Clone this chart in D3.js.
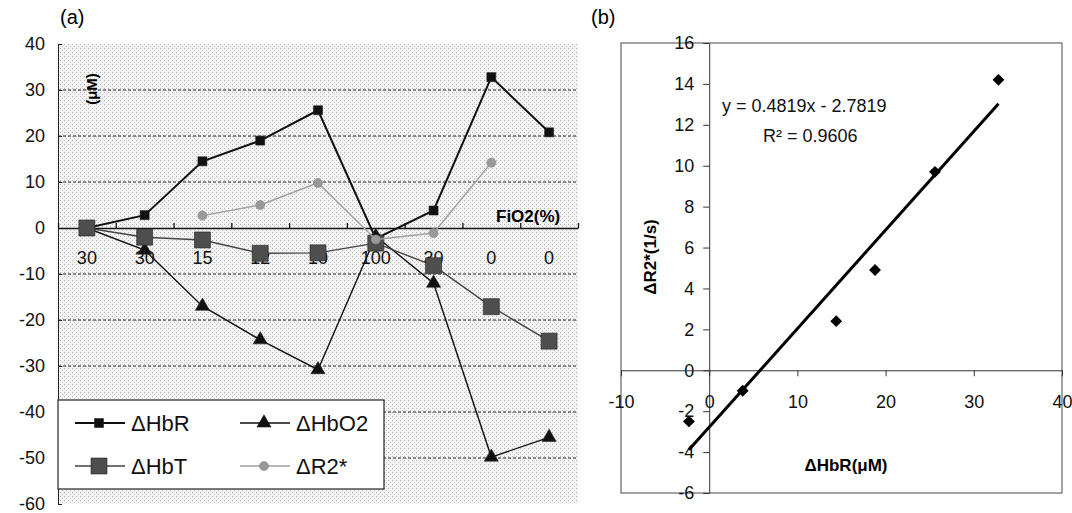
<!DOCTYPE html>
<html>
<head>
<meta charset="utf-8">
<script src="https://cdn.jsdelivr.net/npm/d3@7"></script>
<style>
  body { margin: 0; background: #fff; }
  svg { font-family: "Liberation Sans", Arial, sans-serif; }
</style>
</head>
<body>
<div id="chart"></div>
<script>
// panel (a) data
const fio2Labels = ["30", "30", "15", "12", "10", "100", "30", "0", "0"];
const hbR  = [0, 2.8, 14.5, 19, 25.6, -2.3, 3.8, 32.8, 20.8];
const hbO2 = [0, -4.8, -17, -24.3, -30.8, -1.8, -12, -49.8, -45.5];
const hbT  = [0, -2, -2.6, -5.5, -5.4, -3.3, -8.2, -17.1, -24.6];
const r2s  = [null, null, 2.7, 5, 9.8, -2.5, -1.1, 14.2, null];
const yTicksA = [-60, -50, -40, -30, -20, -10, 0, 10, 20, 30, 40];

// panel (b) data
const scatterX = [-2.3, 3.8, 14.4, 18.8, 25.6, 32.8];
const scatterY = [-2.5, -1.0, 2.4, 4.9, 9.7, 14.2];
const slope = 0.4819, intercept = -2.7819;
const xTicksB = [-10, 0, 10, 20, 30, 40];
const yTicksB = [-6, -4, -2, 0, 2, 4, 6, 8, 10, 12, 14, 16];

const width = 1072, height = 513;
const fmt = d => String(d);  // plain hyphen minus, like the original

const svg = d3.select("#chart").append("svg")
  .attr("width", width)
  .attr("height", height);

drawPanelA();
drawPanelB();

function drawPanelA() {
  const left = 58, right = 578, top = 44, bottom = 504;

  const x = d3.scaleBand()
    .domain(d3.range(fio2Labels.length))
    .range([left, right]);
  const xEdge = d3.scaleLinear()
    .domain([0, fio2Labels.length])
    .range([left, right]);
  const y = d3.scaleLinear()
    .domain([-60, 40])
    .range([bottom, top]);

  // halftone-like background
  const defs = svg.append("defs");
  const pat = defs.append("pattern")
    .attr("id", "dots")
    .attr("width", 4).attr("height", 4)
    .attr("patternUnits", "userSpaceOnUse");
  pat.append("rect").attr("width", 4).attr("height", 4).attr("fill", "#f3f3f3");
  pat.append("rect").attr("width", 1).attr("height", 1).attr("fill", "#b4b4b4");
  pat.append("rect").attr("x", 2).attr("y", 2).attr("width", 1).attr("height", 1).attr("fill", "#c4c4c4");

  svg.append("rect")
    .attr("x", left).attr("y", top)
    .attr("width", right - left).attr("height", bottom - top)
    .attr("fill", "url(#dots)");

  // dashed grid
  svg.append("g")
    .selectAll("line")
    .data(yTicksA.filter(v => v !== 0 && v !== 40 && v !== -60))
    .join("line")
    .attr("x1", left).attr("x2", right)
    .attr("y1", d => y(d)).attr("y2", d => y(d))
    .attr("stroke", "#222")
    .attr("stroke-width", 1)
    .attr("stroke-dasharray", "3,2");

  // y axis
  const yAxis = svg.append("g")
    .attr("transform", `translate(${left},0)`)
    .call(d3.axisLeft(y).tickValues(yTicksA).tickFormat(fmt).tickSize(-4).tickSizeOuter(0).tickPadding(13));
  yAxis.selectAll("text").attr("font-size", 18).attr("fill", "#111");
  yAxis.selectAll("line, path").attr("stroke", "#222");

  // x axis at zero, ticks between categories
  const xAxis = svg.append("g")
    .attr("transform", `translate(0,${y(0)})`)
    .call(d3.axisBottom(xEdge).ticks(fio2Labels.length).tickSize(-5).tickSizeOuter(0).tickFormat(""));
  xAxis.selectAll("line, path").attr("stroke", "#111").attr("stroke-width", 1.3);

  const xLab = svg.append("g")
    .attr("transform", `translate(0,${y(0)})`)
    .call(d3.axisBottom(x).tickSize(0).tickPadding(23).tickFormat(i => fio2Labels[i]));
  xLab.select(".domain").remove();
  xLab.selectAll("text").attr("font-size", 18).attr("fill", "#111");

  const cx = i => x(i) + x.bandwidth() / 2;

  const series = [
    { name: "ΔHbR",  values: hbR,  line: "#111", lw: 2,   marker: "square",   size: 9,  fill: "#111" },
    { name: "ΔHbO2", values: hbO2, line: "#111", lw: 1.4, marker: "triangle", size: 12, fill: "#111" },
    { name: "ΔHbT",  values: hbT,  line: "#444", lw: 1.4, marker: "square",   size: 16, fill: "#4e4e4e" },
    { name: "ΔR2*",  values: r2s,  line: "#a0a0a0", lw: 1.4, marker: "circle", size: 9, fill: "#999" }
  ];

  const line = d3.line()
    .defined(d => d[1] !== null)
    .x(d => cx(d[0]))
    .y(d => y(d[1]));

  series.forEach(s => {
    const pts = s.values.map((v, i) => [i, v]);
    svg.append("path")
      .datum(pts)
      .attr("d", line)
      .attr("fill", "none")
      .attr("stroke", s.line)
      .attr("stroke-width", s.lw);

    svg.append("g")
      .selectAll("path")
      .data(pts.filter(d => d[1] !== null))
      .join("path")
      .attr("transform", d => `translate(${cx(d[0])},${y(d[1])})`)
      .attr("d", markerPath(s.marker, s.size))
      .attr("fill", s.fill)
      .attr("stroke", s.marker === "circle" ? "#888" : "#222")
      .attr("stroke-width", 0.6);
  });

  // labels
  svg.append("text")
    .attr("x", 60).attr("y", 24)
    .attr("font-size", 20)
    .text("(a)");

  svg.append("text")
    .attr("transform", "translate(97,89) rotate(-90)")
    .attr("text-anchor", "middle")
    .attr("font-size", 15)
    .attr("font-weight", "bold")
    .text("(μM)");

  svg.append("text")
    .attr("x", 496).attr("y", 222)
    .attr("font-size", 17)
    .attr("font-weight", "bold")
    .text("FiO2(%)");

  // legend
  const lg = svg.append("g");
  lg.append("rect")
    .attr("x", 58).attr("y", 400)
    .attr("width", 326).attr("height", 89)
    .attr("fill", "#fff")
    .attr("stroke", "#222")
    .attr("stroke-width", 1.2);

  const slots = [[75, 423], [240, 423], [75, 466], [240, 466]];
  series.forEach((s, i) => {
    const [lx, ly] = slots[i];
    lg.append("line")
      .attr("x1", lx).attr("x2", lx + 50)
      .attr("y1", ly).attr("y2", ly)
      .attr("stroke", s.line)
      .attr("stroke-width", s.lw);
    lg.append("path")
      .attr("transform", `translate(${lx + 24},${ly})`)
      .attr("d", markerPath(s.marker, s.size))
      .attr("fill", s.fill)
      .attr("stroke", s.marker === "circle" ? "#888" : "#222")
      .attr("stroke-width", 0.6);
    lg.append("text")
      .attr("x", lx + 56).attr("y", ly + 8)
      .attr("font-size", 22)
      .attr("fill", "#111")
      .text(s.name);
  });
}

function markerPath(type, size) {
  const sym = type === "square" ? d3.symbolSquare
    : type === "triangle" ? d3.symbolTriangle
    : d3.symbolCircle;
  return d3.symbol().type(sym).size(size * size * (type === "circle" ? 0.8 : type === "triangle" ? 0.6 : 1))();
}

function drawPanelB() {
  const left = 621, right = 1062, top = 43, bottom = 493;

  const x = d3.scaleLinear().domain([-10, 40]).range([left, right]);
  const y = d3.scaleLinear().domain([-6, 16]).range([bottom, top]);

  svg.append("rect")
    .attr("x", left).attr("y", top)
    .attr("width", right - left).attr("height", bottom - top)
    .attr("fill", "#fff")
    .attr("stroke", "#666")
    .attr("stroke-width", 1.2);

  const yAxis = svg.append("g")
    .attr("transform", `translate(${x(0)},0)`)
    .call(d3.axisLeft(y).tickValues(yTicksB).tickFormat(fmt).tickSize(6).tickSizeOuter(0).tickPadding(9));
  yAxis.selectAll("text").attr("font-size", 18).attr("fill", "#111");
  yAxis.selectAll("line, path").attr("stroke", "#333");

  const xAxis = svg.append("g")
    .attr("transform", `translate(0,${y(0)})`)
    .call(d3.axisBottom(x).tickValues(xTicksB).tickFormat(fmt).tickSize(6).tickSizeOuter(0).tickPadding(19));
  xAxis.selectAll("text").attr("font-size", 18).attr("fill", "#111");
  xAxis.selectAll("line, path").attr("stroke", "#333");

  // trend line over the data range
  const xr = d3.extent(scatterX);
  svg.append("line")
    .attr("x1", x(xr[0])).attr("y1", y(slope * xr[0] + intercept))
    .attr("x2", x(xr[1])).attr("y2", y(slope * xr[1] + intercept))
    .attr("stroke", "#000")
    .attr("stroke-width", 3);

  svg.append("g")
    .selectAll("path")
    .data(scatterX.map((v, i) => [v, scatterY[i]]))
    .join("path")
    .attr("transform", d => `translate(${x(d[0])},${y(d[1])})`)
    .attr("d", d3.symbol().type(d3.symbolDiamond2).size(90)())
    .attr("fill", "#000");

  svg.append("text")
    .attr("x", 722).attr("y", 112)
    .attr("font-size", 18)
    .attr("fill", "#111")
    .text(`y = ${slope}x - ${Math.abs(intercept)}`);

  svg.append("text")
    .attr("x", 763).attr("y", 142)
    .attr("font-size", 18)
    .attr("fill", "#111")
    .text("R² = 0.9606");

  svg.append("text")
    .attr("transform", "translate(656,257) rotate(-90)")
    .attr("text-anchor", "middle")
    .attr("font-size", 17)
    .attr("font-weight", "bold")
    .text("ΔR2*(1/s)");

  svg.append("text")
    .attr("x", 846).attr("y", 471)
    .attr("text-anchor", "middle")
    .attr("font-size", 17)
    .attr("font-weight", "bold")
    .text("ΔHbR(μM)");

  svg.append("text")
    .attr("x", 591).attr("y", 24)
    .attr("font-size", 20)
    .text("(b)");
}
</script>
</body>
</html>
